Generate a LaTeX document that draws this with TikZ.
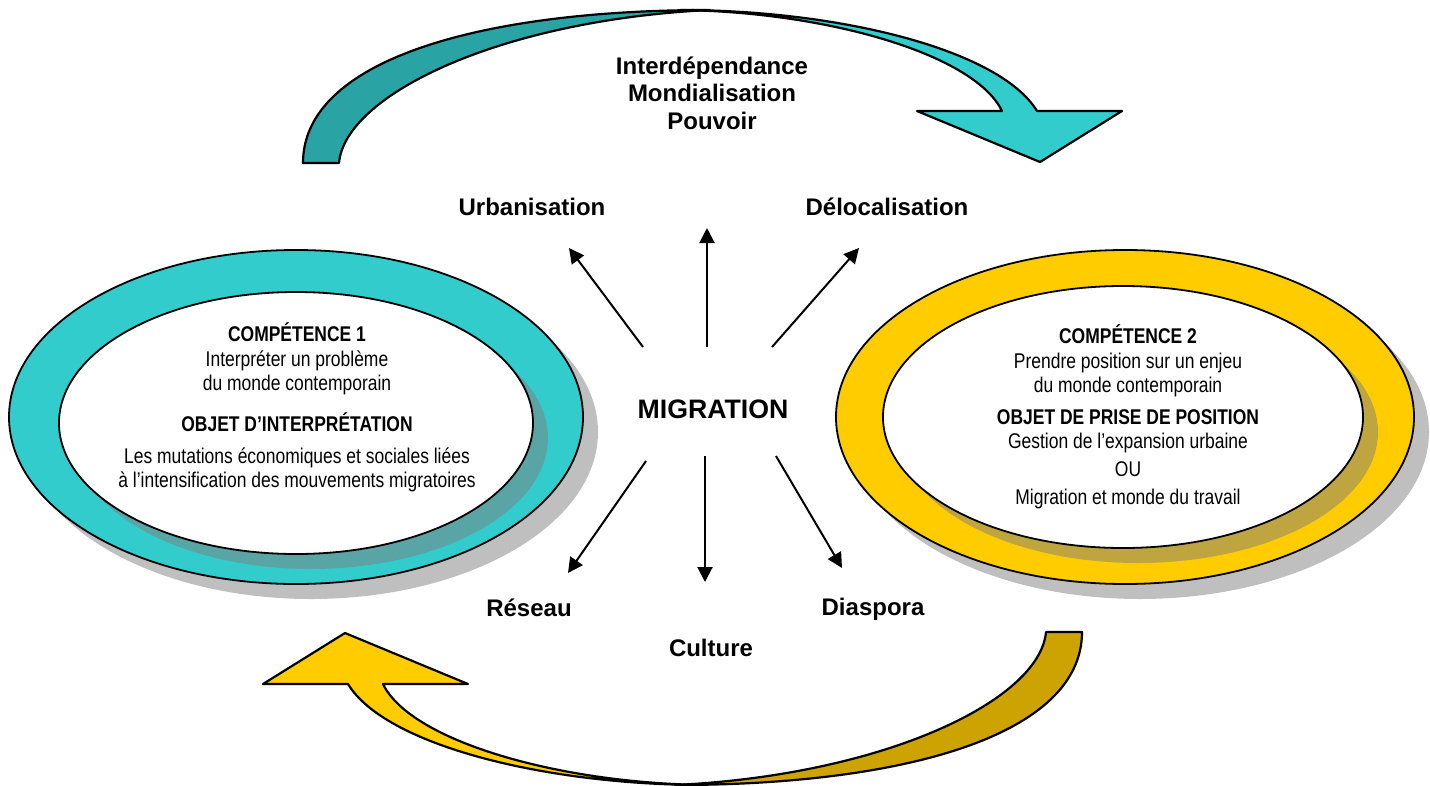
\documentclass[tikz,border=0pt]{standalone}
\usepackage{fontspec}
\setmainfont{Liberation Sans}
\newfontfamily\narrowfont[FakeStretch=0.82]{Liberation Sans}
\usetikzlibrary{arrows.meta}

\definecolor{turquoise}{HTML}{33CCCC}
\definecolor{turquoisedark}{HTML}{29A3A3}
\definecolor{gold}{HTML}{FFCC00}
\definecolor{golddark}{HTML}{CCA300}

\tikzset{
  ring/.style={draw=black, line width=1.8pt},
  shade off/.style={fill=gray, opacity=0.5},
  topic/.style={font=\fontsize{24}{27.6}\selectfont\bfseries, inner sep=0pt, align=center},
  spoke/.style={line width=2pt, -{Triangle[length=15pt,width=15pt]}},
  bigarrow/.style={draw=black, line width=2.2pt, line join=round},
  bodytext/.style={font=\narrowfont\fontsize{21.3}{24.5}\selectfont, align=center, inner sep=0pt},
}

% curved arrow: #1 front colour, #2 back colour
\newcommand{\bentarrow}[2]{%
  \filldraw[bigarrow, fill=#2] (303,163) .. controls (303,60) and (480,10) .. (710,10)
    .. controls (500,20) and (345,95) .. (339,163) -- cycle;
  \filldraw[bigarrow, fill=#1] (680,10) .. controls (840,10) and (1000,50) .. (1037,111)
    -- (1122,111) -- (1040,162) -- (917,111) -- (1002,111)
    .. controls (975,55) and (830,12) .. (680,10) -- cycle;
}

\begin{document}
\begin{tikzpicture}[x=1pt, y=-1pt]
  \useasboundingbox (0,0) rectangle (1430,785);

  % curved arrows
  \bentarrow{turquoise}{turquoisedark}
  \begin{scope}[rotate around={180:(692.5,397.5)}]
    \bentarrow{gold}{golddark}
  \end{scope}

  % left ring
  \fill[shade off] (311,432) ellipse [x radius=287, y radius=167];
  \filldraw[ring, fill=turquoise] (296,417) ellipse [x radius=287, y radius=167];
  \fill[shade off] (311,438) ellipse [x radius=237, y radius=131];
  \filldraw[ring, fill=white] (296,423) ellipse [x radius=237, y radius=131];

  % right ring
  \fill[shade off] (1140,432) ellipse [x radius=289, y radius=167];
  \filldraw[ring, fill=gold] (1125,417) ellipse [x radius=289, y radius=167];
  \fill[shade off] (1138,432) ellipse [x radius=240, y radius=131];
  \filldraw[ring, fill=white] (1123,417) ellipse [x radius=240, y radius=131];

  % texts in the rings
  \node[bodytext] (comp1) at (297,359) {\textbf{COMPÉTENCE 1}\\Interpréter un problème\\du monde contemporain};
  \node[bodytext] (obj1) at (297,422) {\textbf{OBJET D’INTERPRÉTATION}};
  \node[bodytext] (desc1) at (297,470) {Les mutations économiques et sociales liées\\à l’intensification des mouvements migratoires};

  \node[bodytext] (comp2) at (1128,361) {\textbf{COMPÉTENCE 2}\\Prendre position sur un enjeu\\du monde contemporain};
  \node[bodytext] (obj2) at (1128,417) {\textbf{OBJET DE PRISE DE POSITION}};
  \node[bodytext] (desc2) at (1128,471) {Gestion de l’expansion urbaine\\[3pt]OU\\[4pt]Migration et monde du travail};

  % centre
  \node[topic] (themes) at (712,93) {Interdépendance\\Mondialisation\\Pouvoir};
  \node[font=\fontsize{26.7}{30}\selectfont\bfseries, inner sep=0pt] (mig) at (713,409) {MIGRATION};
  \node[topic] (urb) at (532,207) {Urbanisation};
  \node[topic] (delo) at (887,207) {Délocalisation};
  \node[topic] (res) at (529,608) {Réseau};
  \node[topic] (dia) at (873,609) {Diaspora};
  \node[topic] (cult) at (711,648) {Culture};

  % spokes
  \foreach \n/\sx/\sy/\ex/\ey in {urb/643/347/569/248, up/707/347/707/228, delo/772/347/859/248,
                                   res/646/461/568/573, cult/705/456/705/582, dia/776/456/842/568}{
    \coordinate (s-\n) at (\sx,\sy);
    \coordinate (e-\n) at (\ex,\ey);
    \draw[spoke] (s-\n) -- (e-\n);
  }
\end{tikzpicture}
\end{document}
